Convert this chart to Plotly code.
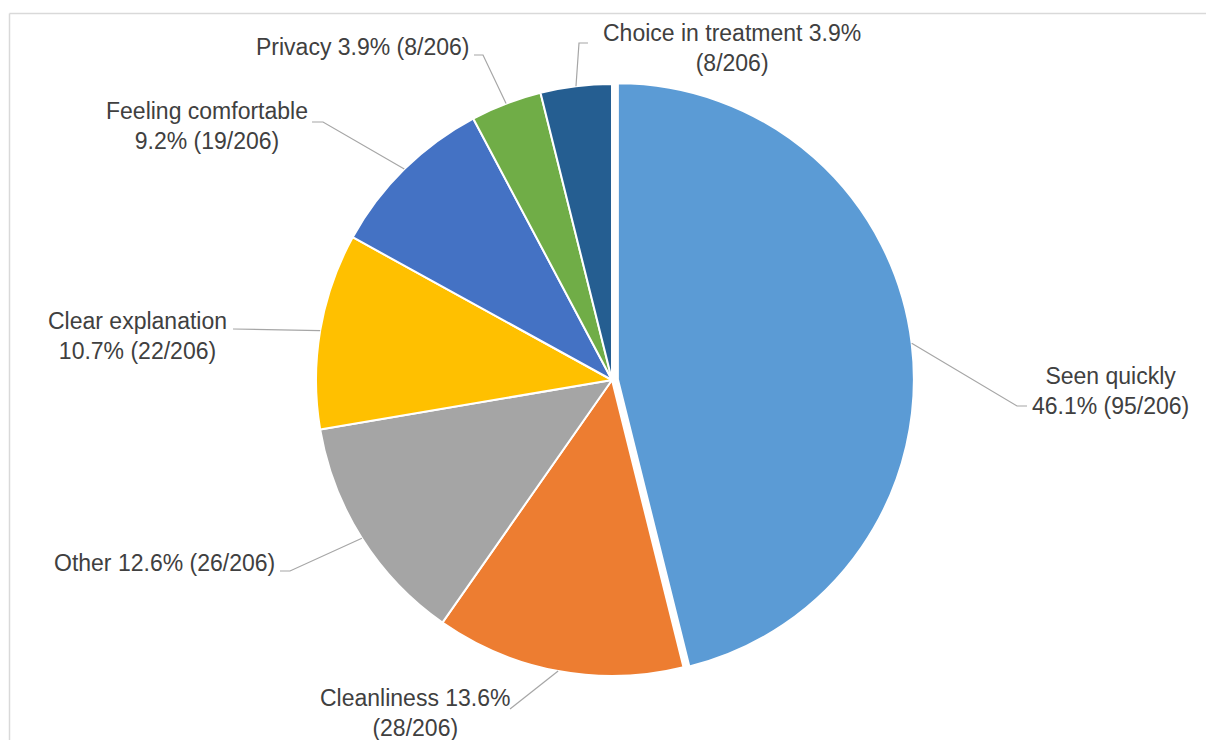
import math
import plotly.graph_objects as go

# ---- data ----
categories = ["Seen quickly", "Cleanliness", "Other", "Clear explanation",
              "Feeling comfortable", "Privacy", "Choice in treatment"]
counts = [95, 28, 26, 22, 19, 8, 8]
total = 206
colors = ["#5B9BD5", "#ED7D31", "#A5A5A5", "#FFC000", "#4472C4", "#70AD47", "#255E91"]
pulls = [0.02, 0, 0, 0, 0, 0, 0]

# label text lines (built from data)
pct = [f"{100 * c / total:.1f}%" for c in counts]
frac = [f"({c}/{total})" for c in counts]
label_lines = [
    [categories[0], f"{pct[0]} {frac[0]}"],
    [f"{categories[1]} {pct[1]}", frac[1]],
    [f"{categories[2]} {pct[2]} {frac[2]}"],
    [categories[3], f"{pct[3]} {frac[3]}"],
    [categories[4], f"{pct[4]} {frac[4]}"],
    [f"{categories[5]} {pct[5]} {frac[5]}"],
    [f"{categories[6]} {pct[6]}", frac[6]],
]

# ---- layout (pixels) ----
W, H = 1206, 740
CX, CY, R = 612, 380, 296
label_center = [(1110, 391), (415, 713), (164, 563), (137, 336),
                (207, 126), (362, 47), (732, 48)]
leader_elbows = [[(1017, 406), (1027, 406)], [(510, 709)], [(290, 571), (280, 571)],
                 [(233, 329)], [(323, 122), (312, 122)], [(483, 55), (474, 55)],
                 [(579, 43), (588, 43)]]

FONT = "Liberation Sans, Arial, sans-serif"
TXT = "#404040"
LINE = "#A6A6A6"

def px(x):
    return x / W

def py(y):
    return 1 - y / H

box = 2 * R * (1 + max(pulls))
fig = go.Figure(go.Pie(
    labels=categories, values=counts, sort=False, direction="clockwise",
    rotation=0, pull=pulls, textinfo="none",
    marker=dict(colors=colors, line=dict(color="white", width=2)),
    domain=dict(x=[px(CX - box / 2), px(CX + box / 2)],
                y=[py(CY + box / 2), py(CY - box / 2)]),
    showlegend=False,
))

shapes = []
annotations = []
cum = 0
for i, c in enumerate(counts):
    mid = (cum + c / 2) / total * 2 * math.pi
    cum += c
    ox = CX + pulls[i] * R * math.sin(mid)
    oy = CY - pulls[i] * R * math.cos(mid)
    ex = ox + R * math.sin(mid)
    ey = oy - R * math.cos(mid)
    pts = [(ex, ey)] + leader_elbows[i]
    path = "M " + " L ".join(f"{px(x):.5f},{py(y):.5f}" for x, y in pts)
    shapes.append(dict(type="path", path=path, xref="paper", yref="paper",
                       line=dict(color=LINE, width=1.2)))
    lx, ly = label_center[i]
    annotations.append(dict(
        text="<br>".join(label_lines[i]), x=px(lx), y=py(ly),
        xref="paper", yref="paper", xanchor="center", yanchor="middle",
        showarrow=False, align="center",
        font=dict(family=FONT, size=23, color=TXT)))

# chart frame (partially visible)
shapes.append(dict(type="line", xref="paper", yref="paper",
                   x0=px(9.5), y0=py(13.5), x1=1.0, y1=py(13.5),
                   line=dict(color="#D9D9D9", width=1.5)))
shapes.append(dict(type="line", xref="paper", yref="paper",
                   x0=px(9.5), y0=py(13.5), x1=px(9.5), y1=0.0,
                   line=dict(color="#D9D9D9", width=1.5)))

fig.update_layout(
    width=W, height=H, margin=dict(l=0, r=0, t=0, b=0),
    paper_bgcolor="white", plot_bgcolor="white",
    shapes=shapes, annotations=annotations,
    font=dict(family=FONT, color=TXT),
)

fig.write_html("out.html")
